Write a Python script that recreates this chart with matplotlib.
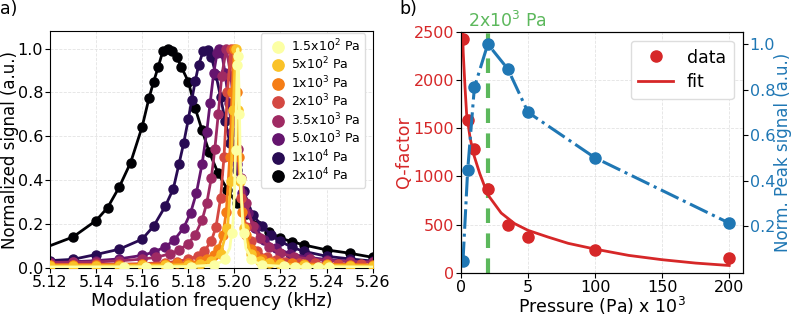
import numpy as np
import matplotlib
matplotlib.use("Agg")
import matplotlib.pyplot as plt

# -----------------------------
# Panel a) data: normalized resonance curves (freq in kHz)
# -----------------------------
labels_a = ["1.5x10$^2$ Pa", "5x10$^2$ Pa", "1x10$^3$ Pa", "2x10$^3$ Pa",
            "3.5x10$^3$ Pa", "5.0x10$^3$ Pa", "1x10$^4$ Pa", "2x10$^4$ Pa"]

f_150 = [5.152, 5.1615, 5.171, 5.181, 5.191, 5.196, 5.199, 5.2005, 5.2012, 5.2017,
         5.2022, 5.2028, 5.204, 5.207, 5.212, 5.2215, 5.2263, 5.2312, 5.2362, 5.2412]
s_150 = [0.003, 0.003, 0.004, 0.005, 0.012, 0.04, 0.157, 0.536, 0.927, 0.966,
         0.70, 0.405, 0.157, 0.04, 0.013, 0.006, 0.005, 0.004, 0.004, 0.003]
fit_f_150 = [5.120, 5.160, 5.180, 5.190, 5.195, 5.198, 5.1994, 5.2000, 5.2005, 5.2010, 5.2015,
             5.2020, 5.2025, 5.2030, 5.2036, 5.205, 5.208, 5.213, 5.223, 5.243, 5.260]
fit_s_150 = [0.003, 0.004, 0.005, 0.011, 0.029, 0.088, 0.208, 0.34, 0.537, 0.821, 1.0,
             0.821, 0.537, 0.34, 0.208, 0.088, 0.029, 0.011, 0.005, 0.004, 0.003]

f_500 = [5.120, 5.130, 5.140, 5.150, 5.160, 5.170, 5.180, 5.185, 5.190, 5.194, 5.197,
         5.1985, 5.1995, 5.2005, 5.2015, 5.2025, 5.204, 5.207, 5.211, 5.215, 5.220,
         5.230, 5.240, 5.250, 5.260]
s_500 = [0.008, 0.008, 0.009, 0.009, 0.010, 0.011, 0.014, 0.018, 0.031, 0.064, 0.18,
         0.395, 0.72, 1.0, 0.72, 0.395, 0.18, 0.064, 0.031, 0.02, 0.015,
         0.011, 0.01, 0.009, 0.008]

f_1000 = [5.120, 5.130, 5.140, 5.150, 5.160, 5.170, 5.175, 5.180, 5.185, 5.188, 5.191,
          5.193, 5.195, 5.1965, 5.198, 5.199, 5.200, 5.201, 5.202, 5.2035, 5.205, 5.207,
          5.209, 5.212, 5.216, 5.220, 5.225, 5.230, 5.240, 5.250, 5.260]
s_1000 = [0.013, 0.013, 0.013, 0.014, 0.015, 0.017, 0.019, 0.022, 0.03, 0.039, 0.059,
          0.087, 0.149, 0.256, 0.506, 0.802, 1.0, 0.802, 0.506, 0.256, 0.149, 0.087,
          0.059, 0.039, 0.027, 0.022, 0.019, 0.017, 0.015, 0.014, 0.013]

f_2000 = [5.120, 5.130, 5.140, 5.150, 5.160, 5.170, 5.175, 5.180, 5.184, 5.187, 5.190,
          5.192, 5.194, 5.1955, 5.197, 5.1985, 5.200, 5.2015, 5.203, 5.205, 5.207, 5.210,
          5.214, 5.218, 5.222, 5.228, 5.235, 5.245, 5.255]
s_2000 = [0.013, 0.014, 0.015, 0.016, 0.018, 0.023, 0.028, 0.038, 0.053, 0.075, 0.122,
          0.185, 0.316, 0.506, 0.802, 1.0, 0.802, 0.506, 0.316, 0.185, 0.122, 0.075,
          0.048, 0.035, 0.028, 0.022, 0.019, 0.016, 0.015]

f_3500 = [5.120, 5.130, 5.140, 5.150, 5.160, 5.166, 5.172, 5.176, 5.180, 5.183, 5.186,
          5.188, 5.190, 5.1915, 5.193, 5.1945, 5.1965, 5.1985, 5.200, 5.2015, 5.203,
          5.205, 5.208, 5.211, 5.215, 5.220, 5.226, 5.233, 5.240, 5.250, 5.260]
s_3500 = [0.023, 0.024, 0.026, 0.031, 0.039, 0.047, 0.063, 0.08, 0.11, 0.15, 0.218,
          0.294, 0.41, 0.54, 0.70, 0.874, 1.0, 0.874, 0.70, 0.54, 0.41,
          0.294, 0.19, 0.134, 0.093, 0.066, 0.049, 0.039, 0.032, 0.028, 0.025]

f_5000 = [5.120, 5.130, 5.140, 5.150, 5.160, 5.165, 5.170, 5.174, 5.178, 5.181, 5.1835,
          5.186, 5.188, 5.1895, 5.191, 5.1925, 5.1935, 5.1945, 5.196, 5.1975, 5.199, 5.201,
          5.2035, 5.206, 5.209, 5.213, 5.218, 5.224, 5.232, 5.240, 5.250, 5.260]
s_5000 = [0.024, 0.027, 0.032, 0.04, 0.056, 0.071, 0.095, 0.127, 0.182, 0.25, 0.34,
          0.474, 0.62, 0.754, 0.887, 0.98, 1.0, 0.98, 0.887, 0.754, 0.62, 0.474,
          0.34, 0.25, 0.182, 0.127, 0.09, 0.064, 0.047, 0.037, 0.03, 0.026]

f_10000 = [5.120, 5.130, 5.140, 5.150, 5.160, 5.165, 5.170, 5.1735, 5.176, 5.178, 5.180,
           5.1815, 5.183, 5.1845, 5.1865, 5.1885, 5.190, 5.192, 5.194, 5.196, 5.198,
           5.201, 5.204, 5.208, 5.212, 5.216, 5.220, 5.225, 5.230, 5.240, 5.250, 5.260]
s_10000 = [0.032, 0.038, 0.06, 0.084, 0.13, 0.19, 0.28, 0.36, 0.475, 0.568, 0.677,
           0.765, 0.851, 0.926, 0.99, 0.994, 0.962, 0.881, 0.779, 0.671, 0.571,
           0.445, 0.349, 0.24, 0.19, 0.148, 0.12, 0.093, 0.075, 0.052, 0.04, 0.03]

f_20000 = [5.130, 5.140, 5.145, 5.150, 5.155, 5.160, 5.163, 5.165, 5.167, 5.169, 5.171,
           5.173, 5.175, 5.177, 5.180, 5.183, 5.186, 5.189, 5.193, 5.197, 5.201, 5.205,
           5.210, 5.215, 5.220, 5.225, 5.230, 5.240, 5.250, 5.260]
s_20000 = [0.14, 0.215, 0.274, 0.367, 0.48, 0.644, 0.776, 0.85, 0.918, 0.99, 1.0,
           0.991, 0.962, 0.916, 0.85, 0.728, 0.627, 0.53, 0.43, 0.356, 0.293, 0.244,
           0.197, 0.164, 0.134, 0.119, 0.104, 0.081, 0.066, 0.047]
fit_f_20000 = [5.120] + f_20000
fit_s_20000 = [0.10] + s_20000

# -----------------------------
# Panel b) data: pressure in units of 10^2 Pa
# -----------------------------
pressure = [1.5, 5, 10, 20, 35, 50, 100, 200]
q_factor = [2430, 1590, 1285, 870, 495, 375, 240, 155]
peak_signal = [0.046, 0.446, 0.81, 1.0, 0.89, 0.70, 0.50, 0.213]

fit_pressure = [1.2, 1.7, 3, 4.2, 6.7, 9.2, 14, 20, 30, 40, 50, 65, 80, 100, 125, 150, 175, 200]
fit_q = [2500, 2280, 1930, 1650, 1410, 1240, 1030, 810, 620, 510, 440, 370, 305, 245, 180, 135, 100, 75]

pressure_ticks = [0, 50, 100, 150, 200]
pressure_ticklabels = ["0", "5", "100", "150", "200"]
marked_pressure = 20

# -----------------------------
# Figure
# -----------------------------
fig = plt.figure(figsize=(7.93, 3.17), dpi=100)
ax_a = fig.add_axes([0.063, 0.1536, 0.407, 0.7495])
ax_b = fig.add_axes([0.5813, 0.1397, 0.3552, 0.7593])
ax_c = ax_b.twinx()

colors = plt.cm.inferno(np.linspace(1.0, 0.0, 8))
curves = [
    (f_150, s_150, fit_f_150, fit_s_150),
    (f_500, s_500, f_500, s_500),
    (f_1000, s_1000, f_1000, s_1000),
    (f_2000, s_2000, f_2000, s_2000),
    (f_3500, s_3500, f_3500, s_3500),
    (f_5000, s_5000, f_5000, s_5000),
    (f_10000, s_10000, f_10000, s_10000),
    (f_20000, s_20000, fit_f_20000, fit_s_20000),
]

for i in reversed(range(len(curves))):
    fx, sy, ffx, fsy = curves[i]
    ax_a.plot(ffx, fsy, color=colors[i], lw=2, zorder=2 + 0.1 * (8 - i))
    ax_a.plot(fx, sy, "o", color=colors[i], ms=6.5, label=labels_a[i],
              zorder=2 + 0.1 * (8 - i))

ax_a.set_xlim(5.12, 5.26)
ax_a.set_ylim(-0.003, 1.082)
ax_a.set_xticks([5.12, 5.14, 5.16, 5.18, 5.20, 5.22, 5.24, 5.26])
ax_a.set_yticks([0.0, 0.2, 0.4, 0.6, 0.8, 1.0])
ax_a.set_xlabel("Modulation frequency (kHz)", fontsize=12.5, labelpad=1)
ax_a.set_ylabel("Normalized signal (a.u.)", fontsize=12)
ax_a.yaxis.set_label_coords(-0.095, 0.5)
ax_a.tick_params(labelsize=11.5, direction="out", length=3.5, pad=1.5)
ax_a.grid(True, color="#e3e3e3", lw=0.6, ls="--")
ax_a.set_axisbelow(True)
handles, labs = ax_a.get_legend_handles_labels()
ax_a.legend(handles[::-1], labs[::-1], loc="upper right", fontsize=9,
            handletextpad=0.1, borderpad=0.35, labelspacing=0.15, framealpha=1,
            edgecolor="#dddddd", handlelength=2.0, markerscale=1.25,
            borderaxespad=0.2, bbox_to_anchor=(0.984, 1.0))

# panel b
red = "#d62728"
blue = "#1f77b4"
green = "#5cb85c"

ax_b.axvline(marked_pressure, color=green, lw=3, ls=(0, (3.5, 2.5)), zorder=1)
ax_b.plot(pressure, q_factor, "o", color=red, ms=8, label="data", zorder=4)
ax_b.plot(fit_pressure, fit_q, "-", color=red, lw=2, label="fit", zorder=3)
ax_c.plot(pressure, peak_signal, "-.", color=blue, lw=2.2, marker="o", ms=8)

ax_b.set_xlim(0, 210)
ax_b.set_ylim(0, 2500)
ax_c.set_ylim(-0.005, 1.053)
ax_b.set_xticks(pressure_ticks)
ax_b.set_xticklabels(pressure_ticklabels)
ax_b.set_yticks([0, 500, 1000, 1500, 2000, 2500])
ax_c.set_yticks([0.2, 0.4, 0.6, 0.8, 1.0])
ax_b.tick_params(axis="x", labelsize=11.5, length=3.5, pad=1.5)
ax_b.tick_params(axis="y", labelsize=11.5, length=3.5, labelcolor=red, pad=1.5)
ax_c.tick_params(axis="y", labelsize=11.5, length=3.5, labelcolor=blue, pad=1.5)
ax_b.set_xlabel("Pressure (Pa) x 10$^3$", fontsize=12.5, labelpad=0)
ax_b.set_ylabel("Q-factor", fontsize=12.5, color=red, labelpad=0)
ax_c.set_ylabel("Norm. Peak signal (a.u.)", fontsize=12, color=blue)
ax_c.yaxis.set_label_coords(1.111, 0.5)
ax_b.grid(True, color="#e3e3e3", lw=0.6, ls="--")
ax_b.set_axisbelow(True)
ax_b.legend(loc="upper right", fontsize=12.5, framealpha=1, edgecolor="#dddddd",
            borderpad=0.45, labelspacing=0.4)
ax_b.text(5, 2515, "2x10$^3$ Pa", color=green, fontsize=12.5, ha="left", va="bottom")

fig.text(0.0, 1.0, "a)", fontsize=12.5, ha="left", va="top")
fig.text(0.503, 1.0, "b)", fontsize=12.5, ha="left", va="top")

fig.savefig("out.png", dpi=100)
